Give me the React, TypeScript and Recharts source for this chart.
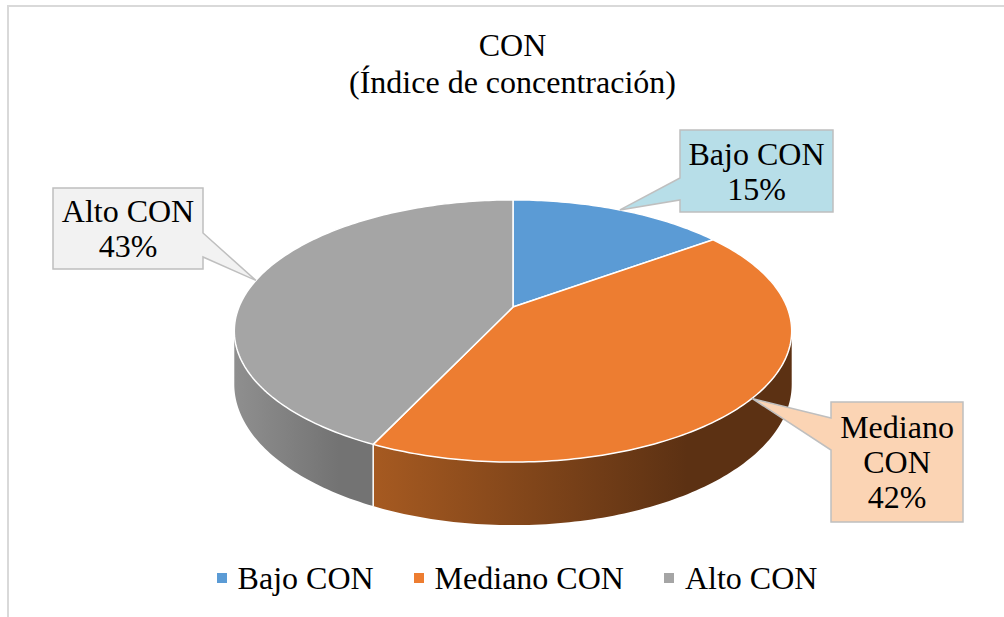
import React from "react";
import { PieChart, Pie, Cell, Legend } from "recharts";

const CATEGORIES = ["Bajo CON", "Mediano CON", "Alto CON"];
const VALUES = [15, 42, 43];
const COLORS = ["#5b9bd5", "#ed7d31", "#a5a5a5"];
const SIDE_LIGHT = ["#4a7fb0", "#a65a21", "#8f8f8f"];
const SIDE_DARK = ["#2d4f70", "#5c3113", "#737373"];
const LABEL_FILLS = ["#b7dee8", "#fbd4b4", "#f2f2f2"];

const data = CATEGORIES.map((name, i) => ({ name, value: VALUES[i] }));

const FONT = '"Liberation Serif", "Times New Roman", serif';
const FONT_SIZE = 32;

// perspective of the tilted disc
const K = -0.183;
const Q = 0.4624;
const DEPTH = 0.188;
const VIS_FROM = 100.6;
const VIS_TO = 259.4;

// phi: degrees clockwise from 12 o'clock
const project = (cx: number, cy: number, r: number, phi: number) => {
  const a = (phi * Math.PI) / 180;
  const u = Math.sin(a);
  const v = -Math.cos(a);
  const w = 1 + K * v;
  return { x: cx + (r * u) / w, y: cy + (r * Q * v) / w, d: (r * DEPTH) / w };
};

const arcPoints = (cx: number, cy: number, r: number, from: number, to: number) => {
  const pts = [];
  const steps = Math.max(2, Math.ceil(Math.abs(to - from)));
  for (let s = 0; s <= steps; s++) pts.push(project(cx, cy, r, from + ((to - from) * s) / steps));
  return pts;
};

const Slice3D = (props: any) => {
  const { cx, cy, outerRadius, startAngle, endAngle } = props;
  let i = CATEGORIES.indexOf(props.payload?.name ?? props.name);
  if (i < 0) i = props.index ?? 0;
  const p0 = 90 - startAngle;
  const p1 = 90 - endAngle;
  const top = arcPoints(cx, cy, outerRadius, p0, p1);
  const topPath =
    `M${cx},${cy} ` + top.map((p) => `L${p.x.toFixed(2)},${p.y.toFixed(2)}`).join(" ") + " Z";

  const a = Math.max(p0, VIS_FROM);
  const b = Math.min(p1, VIS_TO);
  let sidePath = "";
  const edges: { x: number; y: number; d: number }[] = [];
  if (a < b) {
    const up = arcPoints(cx, cy, outerRadius, a, b);
    const down = up.slice().reverse();
    sidePath =
      "M" +
      up.map((p) => `${p.x.toFixed(2)},${p.y.toFixed(2)}`).join(" L") +
      " L" +
      down.map((p) => `${p.x.toFixed(2)},${(p.y + p.d).toFixed(2)}`).join(" L") +
      " Z";
    if (p0 > VIS_FROM) edges.push(project(cx, cy, outerRadius, p0));
  }
  const gid = `side-grad-${i}`;
  return (
    <g>
      <defs>
        <linearGradient id={gid} x1="0" y1="0" x2="1" y2="0">
          <stop offset="0%" stopColor={SIDE_LIGHT[i]} />
          <stop offset="75%" stopColor={SIDE_DARK[i]} />
          <stop offset="100%" stopColor={SIDE_DARK[i]} />
        </linearGradient>
      </defs>
      {sidePath && <path d={sidePath} fill={`url(#${gid})`} stroke="none" />}
      {edges.map((e, k) => (
        <line key={k} x1={e.x} y1={e.y} x2={e.x} y2={e.y + e.d} stroke="#ffffff" strokeWidth={1.5} />
      ))}
      <path d={topPath} fill={COLORS[i]} stroke="#ffffff" strokeWidth={1.5} strokeLinejoin="round" />
    </g>
  );
};

// callout boxes: x, y, w, h, wedge side and wedge base on that edge
const CALLOUTS = [
  { x: 680, y: 130, w: 153, h: 82, side: "left", b1: 178, b2: 200, wrap: false },
  { x: 831, y: 402, w: 132, h: 120, side: "left", b1: 418, b2: 450, wrap: true },
  { x: 53, y: 188, w: 150, h: 81, side: "right", b1: 233, b2: 257, wrap: false },
];

const renderCallout = (props: any) => {
  const { cx, cy, outerRadius, midAngle, percent, index } = props;
  const box = CALLOUTS[index];
  if (!box) return null;
  const tip = project(cx, cy, outerRadius, 90 - midAngle);
  const { x, y, w, h, b1, b2 } = box;
  const x1 = x + w;
  const y1 = y + h;
  const d =
    box.side === "left"
      ? `M${x},${y} H${x1} V${y1} H${x} V${b2} L${tip.x},${tip.y} L${x},${b1} Z`
      : `M${x},${y} H${x1} V${b1} L${tip.x},${tip.y} L${x1},${b2} V${y1} H${x} Z`;
  const name = CATEGORIES[index];
  const lines = (box.wrap ? name.split(" ") : [name]).concat(`${Math.round(percent * 100)}%`);
  const mid = y + h / 2;
  return (
    <g>
      <path d={d} fill={LABEL_FILLS[index]} stroke="#bfbfbf" strokeWidth={1.5} />
      {lines.map((t, k) => (
        <text
          key={k}
          x={x + w / 2}
          y={mid + (k - (lines.length - 1) / 2) * 35 + 11}
          textAnchor="middle"
          style={{ fontFamily: FONT, fontSize: FONT_SIZE }}
          fill="#000000"
        >
          {t}
        </text>
      ))}
    </g>
  );
};

const renderLegend = (props: any) => {
  const items = (props.payload || [])
    .slice()
    .sort((p: any, q: any) => CATEGORIES.indexOf(p.value) - CATEGORIES.indexOf(q.value));
  return (
    <div style={{ display: "flex", justifyContent: "center", alignItems: "center", fontFamily: FONT, fontSize: FONT_SIZE, color: "#000" }}>
      {items.map((it: any, k: number) => (
        <div key={it.value} style={{ display: "flex", alignItems: "center", marginRight: k < items.length - 1 ? 40 : 0 }}>
          <span
            style={{
              width: 10,
              height: 10,
              background: COLORS[CATEGORIES.indexOf(it.value)],
              marginRight: 11,
              display: "inline-block",
            }}
          />
          <span style={{ lineHeight: "36px" }}>{it.value}</span>
        </div>
      ))}
    </div>
  );
};

export default function App() {
  return (
    <div style={{ position: "absolute", left: 0, top: 0, width: 1004, height: 617, overflow: "hidden", background: "#fff" }}>
      <div style={{ position: "absolute", left: 7, top: 5, width: 1100, height: 700, border: "2px solid #d9d9d9" }} />
      <div
        style={{
          position: "absolute",
          left: 0,
          top: 27,
          width: 1025,
          textAlign: "center",
          fontFamily: FONT,
          fontSize: FONT_SIZE,
          lineHeight: "37px",
          color: "#000",
        }}
      >
        <div>CON</div>
        <div>(Índice de concentración)</div>
      </div>
      <PieChart
        width={1004}
        height={617}
        margin={{ top: 0, right: 0, bottom: 0, left: 0 }}
        style={{ position: "absolute", left: 0, top: 0 }}
      >
        <Pie
          data={data}
          dataKey="value"
          nameKey="name"
          cx={513}
          cy={307}
          outerRadius={274}
          startAngle={90}
          endAngle={-270}
          shape={Slice3D}
          activeShape={Slice3D}
          label={renderCallout}
          labelLine={false}
          isAnimationActive={false}
        >
          {data.map((d, i) => (
            <Cell key={d.name} fill={COLORS[i]} />
          ))}
        </Pie>
        <Legend
          content={renderLegend}
          wrapperStyle={{ position: "absolute", left: 0, top: 560, width: 1034, height: 36 }}
        />
      </PieChart>
    </div>
  );
}
